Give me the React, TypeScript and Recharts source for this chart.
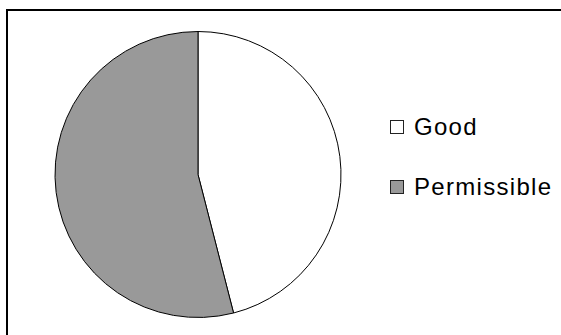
import React from "react";
import { PieChart, Pie, Cell, Legend } from "recharts";

const categories = ["Good", "Permissible"];
const values = [46, 54];
const fills = ["#ffffff", "#999999"];

const rows = categories.map((name, i) => ({ name, value: values[i] }));

const LegendBox = () => (
  <div style={{ fontFamily: "Liberation Sans, Arial, sans-serif", fontSize: 24, letterSpacing: 1.3, color: "#000" }}>
    {rows.map((r, i) => (
      <div key={r.name} style={{ display: "flex", alignItems: "center", height: 34, marginBottom: i === 0 ? 26 : 0 }}>
        <span
          style={{
            display: "inline-block",
            width: 12,
            height: 12,
            background: fills[i],
            border: "1px solid #222",
            marginRight: 10,
          }}
        />
        <span>{r.name}</span>
      </div>
    ))}
  </div>
);

export default function App() {
  return (
    <div style={{ position: "fixed", left: 0, top: 0, width: 561, height: 335, overflow: "hidden", background: "#fff" }}>
      <div
        style={{
          position: "absolute",
          left: 6,
          top: 9,
          width: 700,
          height: 500,
          borderLeft: "2px solid #000",
          borderTop: "2px solid #000",
        }}
      />
      {/* margin 0 so cx/cy are plain page pixels */}
      <PieChart width={561} height={335} margin={{ top: 0, right: 0, bottom: 0, left: 0 }} style={{ position: "absolute", left: 0, top: 0 }}>
        <Pie
          data={rows}
          dataKey="value"
          nameKey="name"
          cx={198}
          cy={174.5}
          outerRadius={143}
          startAngle={90}
          endAngle={-270}
          stroke="#000"
          strokeWidth={1}
          isAnimationActive={false}
        >
          {rows.map((_, i) => (
            <Cell key={i} fill={fills[i]} />
          ))}
        </Pie>
        <Legend
          layout="vertical"
          content={<LegendBox />}
          wrapperStyle={{ position: "absolute", left: 390, top: 110, width: 170 }}
        />
      </PieChart>
    </div>
  );
}
